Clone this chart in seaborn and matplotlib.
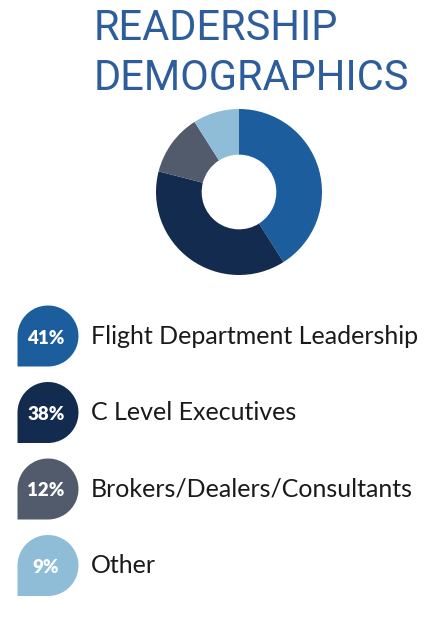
import numpy as np
import seaborn as sns
import matplotlib.pyplot as plt
from matplotlib.path import Path
from matplotlib.patches import PathPatch

categories = ["Flight Department Leadership", "C Level Executives",
              "Brokers/Dealers/Consultants", "Other"]
shares = [41, 38, 12, 9]
title_lines = ["READERSHIP", "DEMOGRAPHICS"]

palette = sns.color_palette(["#1b5d9d", "#132b4f", "#515b6b", "#8fbcd7"])
title_color = "#2e5d9c"

sns.set_theme(style="white")
plt.rcParams["font.family"] = ["Lato", "DejaVu Sans"]

W, H = 440, 621
fig = plt.figure(figsize=(W / 100, H / 100), dpi=100)
fig.patch.set_facecolor("white")

# donut
cx, cy, r = 239, 192, 83
ax = fig.add_axes([(cx - r) / W, (H - cy - r) / H, 2 * r / W, 2 * r / H])
ax.pie(shares, colors=palette, startangle=90, counterclock=False,
       wedgeprops=dict(width=0.55, edgecolor="none"))
ax.set_xlim(-1, 1)
ax.set_ylim(-1, 1)
ax.set_aspect("equal")
ax.axis("off")

# overlay in pixel units
ov = fig.add_axes([0, 0, 1, 1])
ov.set_xlim(0, W)
ov.set_ylim(0, H)
ov.axis("off")

for i, line in enumerate(title_lines):
    ov.text(94, H - 40 - i * 50, line, color=title_color, fontsize=30,
            family=["Roboto", "DejaVu Sans"], ha="left", va="baseline")


def drop_path(x, y, rad):
    arc = Path.arc(-90, 180)
    verts = list(arc.vertices) + [(-1, -1), (0, -1)]
    codes = list(arc.codes) + [Path.LINETO, Path.CLOSEPOLY]
    verts = np.array(verts) * rad + np.array([x, y])
    return Path(verts, codes)


mx, my0, step, mr = 48, 336, 76.5, 30.5
for i, (cat, val) in enumerate(zip(categories, shares)):
    y = H - (my0 + i * step)
    ov.add_patch(PathPatch(drop_path(mx, y, mr), facecolor=palette[i],
                           edgecolor="none"))
    ov.text(mx - 2, y - 2, f"{val}%", color="white", fontsize=13.5,
            fontweight="heavy", ha="center", va="center")
    ov.text(91, y, cat, color="#1a1a1a", fontsize=18,
            ha="left", va="center")

fig.savefig("out.png", dpi=100)
